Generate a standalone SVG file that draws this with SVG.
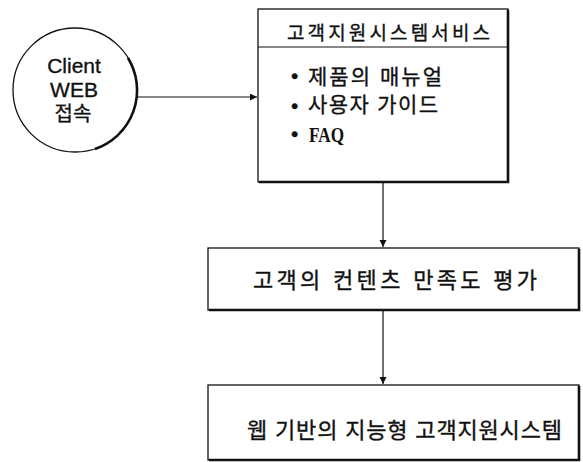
<svg xmlns="http://www.w3.org/2000/svg" width="583" height="462" viewBox="0 0 583 462">
<style>
.bg{fill:#fff}
.shape{fill:#fff;stroke:#111;stroke-width:1.3}
.shadow{fill:none;stroke:#111;stroke-width:2.6}
.line{fill:none;stroke:#111;stroke-width:1.2}
.kr{font-family:"Liberation Sans","Noto Sans CJK KR",sans-serif;fill:#111;stroke:#111;stroke-width:0.35}
.faq{font-family:"Liberation Serif",serif;font-weight:bold;fill:#111}
</style>
<defs>
<marker id="ah" markerWidth="8" markerHeight="8" refX="7" refY="3.5" orient="auto" markerUnits="userSpaceOnUse">
<path d="M0,0 L7,3.5 L0,7 Z" fill="#111"/>
</marker>
</defs>
<rect class="bg" x="0" y="0" width="583" height="462"/>
<g id="client">
<circle class="shape" cx="75" cy="90" r="62"/>
<path class="shadow" d="M128,58 A62,62 0 0 1 95,149"/>
<text class="kr" x="74" y="73" font-size="21" text-anchor="middle">Client</text>
<text class="kr" x="74" y="97" font-size="21" text-anchor="middle">WEB</text>
<text class="kr" x="73" y="121" font-size="20" text-anchor="middle">접속</text>
</g>
<g id="service">
<rect class="shape" x="258" y="9" width="250" height="173"/>
<path class="shadow" d="M508,10 V182 H259"/>
<line class="line" x1="258" y1="47" x2="508" y2="47"/>
<text class="kr" x="287" y="40" font-size="19" textLength="203" lengthAdjust="spacing">고객지원시스템서비스</text>
<text class="kr" font-size="21"><tspan x="291" y="83">•</tspan><tspan x="308" y="84" textLength="134" lengthAdjust="spacing">제품의 매뉴얼</tspan></text>
<text class="kr" font-size="21"><tspan x="291" y="113">•</tspan><tspan x="308" y="112" textLength="130" lengthAdjust="spacing">사용자 가이드</tspan></text>
<text font-size="21"><tspan class="kr" x="291" y="141">•</tspan><tspan class="faq" x="309" y="142" textLength="35" lengthAdjust="spacingAndGlyphs">FAQ</tspan></text>
</g>
<g id="evaluate">
<rect class="shape" x="208" y="248" width="371" height="62"/>
<path class="shadow" d="M579,249 V310 H209"/>
<text class="kr" x="253" y="288" font-size="22" textLength="284" lengthAdjust="spacing">고객의 컨텐츠 만족도 평가</text>
</g>
<g id="system">
<rect class="shape" x="208" y="385" width="371" height="75"/>
<path class="shadow" d="M579,386 V460 H209"/>
<text class="kr" x="247" y="438" font-size="22" textLength="315" lengthAdjust="spacing">웹 기반의 지능형 고객지원시스템</text>
</g>
<g id="connectors">
<line class="line" x1="137" y1="97" x2="257" y2="97" marker-end="url(#ah)"/>
<line class="line" x1="383" y1="183" x2="383" y2="247" marker-end="url(#ah)"/>
<line class="line" x1="383" y1="311" x2="383" y2="384" marker-end="url(#ah)"/>
</g>
</svg>
